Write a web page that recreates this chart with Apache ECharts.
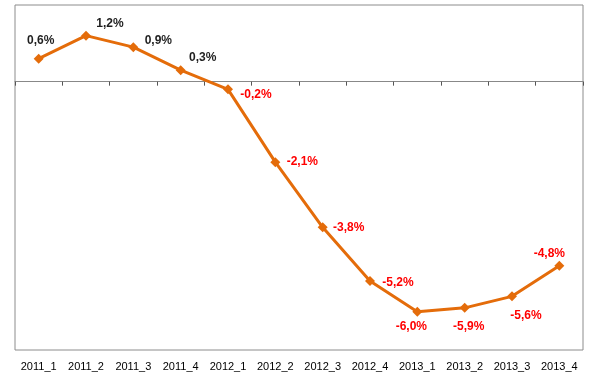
<!DOCTYPE html>
<html><head><meta charset="utf-8">
<script src="https://cdn.jsdelivr.net/npm/echarts@6/dist/echarts.min.js"></script>
<style>html,body{margin:0;padding:0;background:#fff}#c{width:610px;height:384px}</style>
</head><body><div id="c"></div>
<script>
var categories = ['2011_1','2011_2','2011_3','2011_4','2012_1','2012_2','2012_3','2012_4','2013_1','2013_2','2013_3','2013_4'];
var values = [0.6, 1.2, 0.9, 0.3, -0.2, -2.1, -3.8, -5.2, -6.0, -5.9, -5.6, -4.8];
var labelOffsets = [[2,-18],[24,-12],[25,-6],[22,-12],[28,5],[27,0],[26,0],[28,2],[-6,15],[4,19],[14,19],[-10,-12]];

var chart = echarts.init(document.getElementById('c'), null, {renderer:'canvas'});
var font = '"Liberation Sans", "Open Sans", sans-serif';
var seriesData = values.map(function(v, i){
  return {
    value: v,
    label: {
      show: true,
      position: 'inside',
      offset: labelOffsets[i],
      color: v < 0 ? '#ff0000' : '#1f1f1f'
    }
  };
});
chart.setOption({
  animation: false,
  grid: {left: 15, top: 5, width: 568, height: 345, show: true, borderColor: '#8c8c8c', borderWidth: 1, backgroundColor: '#fff'},
  xAxis: [{
    type: 'category', data: categories, position: 'bottom',
    axisLine: {show: false, onZero: false},
    axisTick: {show: false},
    axisLabel: {interval: 0, color: '#000', fontFamily: font, fontSize: 11, margin: 11}
  }, {
    type: 'category', data: categories, position: 'bottom',
    axisLine: {show: true, onZero: true, lineStyle: {color: '#888', width: 1}},
    axisTick: {show: true, interval: 0, alignWithLabel: false, length: 4, lineStyle: {color: '#555'}},
    axisLabel: {show: false}
  }],
  yAxis: {
    type: 'value', min: -7, max: 2, interval: 1,
    show: false, splitLine: {show: false}
  },
  series: [{
    type: 'line', xAxisIndex: 1, data: seriesData,
    symbol: 'diamond', symbolSize: 10,
    lineStyle: {color: '#E46C0A', width: 3},
    itemStyle: {color: '#E46C0A'},
    label: {
      fontFamily: font, fontSize: 12, fontWeight: 'bold',
      formatter: function(p){ return p.value.toFixed(1).replace('.', ',') + '%'; }
    }
  }]
});
</script></body></html>
